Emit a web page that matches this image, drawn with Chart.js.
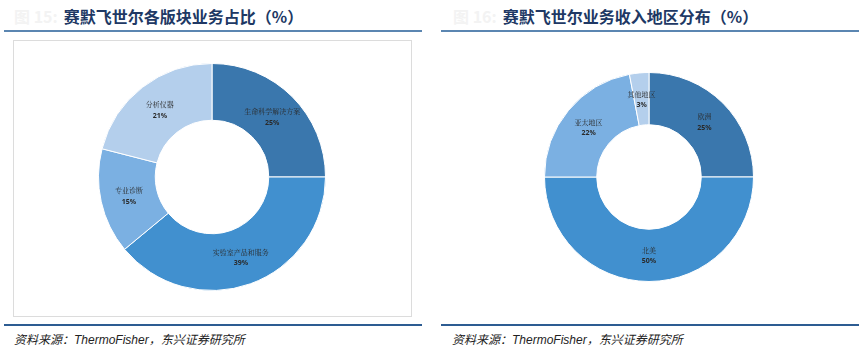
<!DOCTYPE html>
<html>
<head>
<meta charset="utf-8">
<script src="https://cdn.jsdelivr.net/npm/chart.js@4"></script>
<style>
  body { margin: 0; background: #fff; width: 866px; height: 352px; position: relative; overflow: hidden;
         font-family: "Noto Sans CJK SC", "Noto Sans", sans-serif; }
  .title { position: absolute; top: 4px; font-size: 16px; font-weight: bold; color: #203864; white-space: nowrap; }
  .title .fig { color: #f3f3f3; margin-right: 6px; }
  .rule { position: absolute; height: 2px; background: #5B86B1; }
  .foot { position: absolute; height: 2px; background: #2D5C92; }
  .src { position: absolute; top: 330px; font-size: 12px; font-style: italic; color: #222; white-space: nowrap; }
  .src .en { font-family: "Liberation Sans", sans-serif; }
  .box { position: absolute; border: 1px solid #dcdcdc; }
  canvas { position: absolute; }
</style>
</head>
<body>
<div class="title" style="left:14px"><span class="fig">图 15:</span>赛默飞世尔各版块业务占比（%）</div>
<div class="title" style="left:453px"><span class="fig">图 16:</span>赛默飞世尔业务收入地区分布（%）</div>
<div class="rule" style="left:4px; width:418px; top:30px"></div>
<div class="rule" style="left:441px; width:418px; top:30px"></div>
<div class="box" style="left:13px; top:40px; width:397px; height:275px"></div>
<div style="position:absolute; left:98px; top:63px; width:228px; height:228px"><canvas id="segChart"></canvas></div>
<div style="position:absolute; left:544px; top:72px; width:210px; height:210px"><canvas id="regionChart"></canvas></div>
<div class="foot" style="left:4px; width:418px; top:324px"></div>
<div class="foot" style="left:441px; width:418px; top:324px"></div>
<div class="src" style="left:14px">资料来源：<span class="en">ThermoFisher</span>，东兴证券研究所</div>
<div class="src" style="left:452px">资料来源：<span class="en">ThermoFisher</span>，东兴证券研究所</div>
<script>
// business segments
const segLabels = ['生命科学解决方案', '实验室产品和服务', '专业诊断', '分析仪器'];
const segValues = [25, 39, 15, 21];
// regions
const regionLabels = ['欧洲', '北美', '亚太地区', '其他地区'];
const regionValues = [25, 50, 22, 3];

const colors = ['#3A77AD', '#4190CF', '#7BB0E2', '#B4CFEC'];

const sliceLabels = {
  id: 'sliceLabels',
  afterDatasetsDraw(chart) {
    const ctx = chart.ctx;
    const ds = chart.data.datasets[0];
    chart.getDatasetMeta(0).data.forEach((arc, i) => {
      const p = arc.tooltipPosition();
      ctx.save();
      ctx.textAlign = 'center';
      ctx.textBaseline = 'middle';
      ctx.fillStyle = '#2a2a2a';
      ctx.font = '7px "Noto Serif CJK SC", "Noto Sans CJK SC", serif';
      ctx.fillText(chart.data.labels[i], p.x, p.y - 5);
      ctx.font = 'bold 7px "Noto Sans", sans-serif';
      ctx.fillText(ds.data[i] + '%', p.x, p.y + 6);
      ctx.restore();
    });
  }
};

function makeDoughnut(id, labels, values) {
  const ctx = document.getElementById(id).getContext('2d');
  return new Chart(ctx, {
    type: 'doughnut',
    data: {
      labels,
      datasets: [{
        data: values,
        backgroundColor: colors,
        borderColor: '#fff',
        borderWidth: 1
      }]
    },
    options: {
      responsive: true,
      maintainAspectRatio: false,
      animation: false,
      cutout: '50%',
      layout: { padding: 0 },
      plugins: { legend: { display: false }, tooltip: { enabled: false } }
    },
    plugins: [sliceLabels]
  });
}

makeDoughnut('segChart', segLabels, segValues);
makeDoughnut('regionChart', regionLabels, regionValues);
</script>
</body>
</html>
